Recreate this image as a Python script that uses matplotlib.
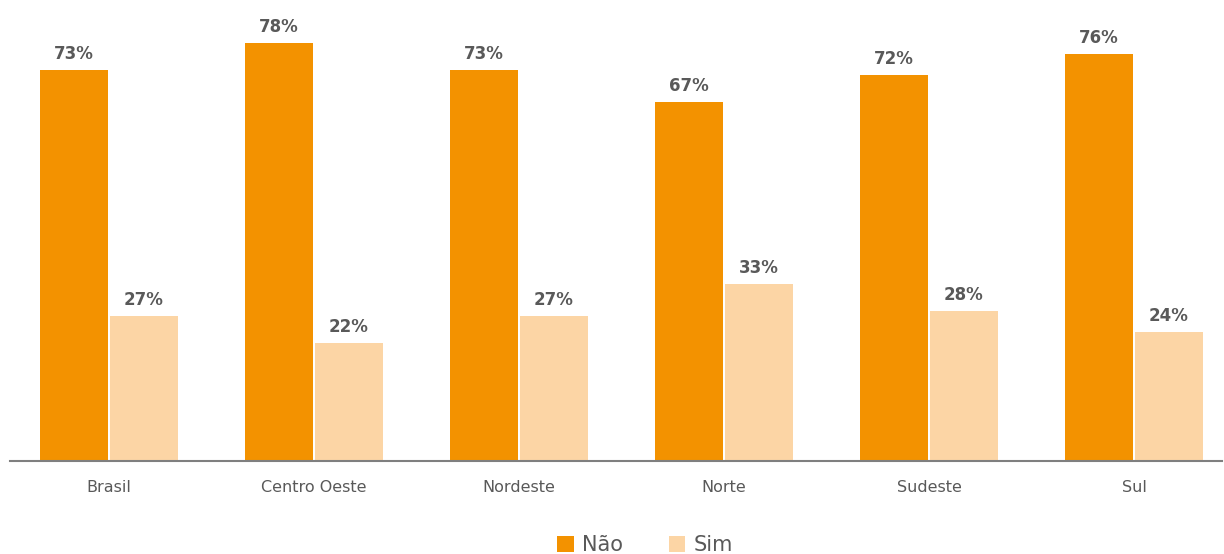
import matplotlib
matplotlib.use("Agg")
import matplotlib.pyplot as plt
import numpy as np
from matplotlib.patches import Patch

categories = ["Brasil", "Centro Oeste", "Nordeste", "Norte", "Sudeste", "Sul"]
nao = [73, 78, 73, 67, 72, 76]
sim = [27, 22, 27, 33, 28, 24]
series_names = ["Não", "Sim"]
colors = ["#F39200", "#FCD5A5"]

plt.rcParams['font.family'] = ['DejaVu Sans']

fig = plt.figure(figsize=(12.24, 5.54), dpi=100)
ax = fig.add_axes([10/1224, 93/554, 1212/1224, 461/554])

x = np.arange(len(categories))
w = 0.33
b1 = ax.bar(x - 0.17, nao, width=w, color=colors[0], linewidth=0)
b2 = ax.bar(x + 0.17, sim, width=w, color=colors[1], linewidth=0)

for bars, vals in ((b1, nao), (b2, sim)):
    for r, v in zip(bars, vals):
        ax.annotate(f"{v}%", (r.get_x() + r.get_width()/2, v), xytext=(0, 5),
                    textcoords="offset points", ha="center", va="bottom",
                    fontsize=12, fontweight="bold", color="#595959")

ax.set_xlim(-0.483, -0.483 + 1212/205)
ax.set_ylim(0, 461/5.36)
ax.set_xticks(x)
ax.set_xticklabels(categories, fontsize=11.5, color="#595959")
ax.tick_params(axis="x", length=0, pad=14)
ax.set_yticks([])
for s in ("top", "right", "left"):
    ax.spines[s].set_visible(False)
ax.spines["bottom"].set_color("#7f7f7f")
ax.spines["bottom"].set_linewidth(1.5)

handles = [Patch(facecolor=c, edgecolor="none") for c in colors]
fig.legend(handles, series_names, loc="center", bbox_to_anchor=(645/1224, 1 - 545/554),
           ncol=2, frameon=False, handlelength=0.8, handleheight=0.8,
           handletextpad=0.4, columnspacing=2.2, labelcolor="#595959",
           prop={'size': 15, 'weight': 'medium'})

fig.savefig("out.png", dpi=100)
